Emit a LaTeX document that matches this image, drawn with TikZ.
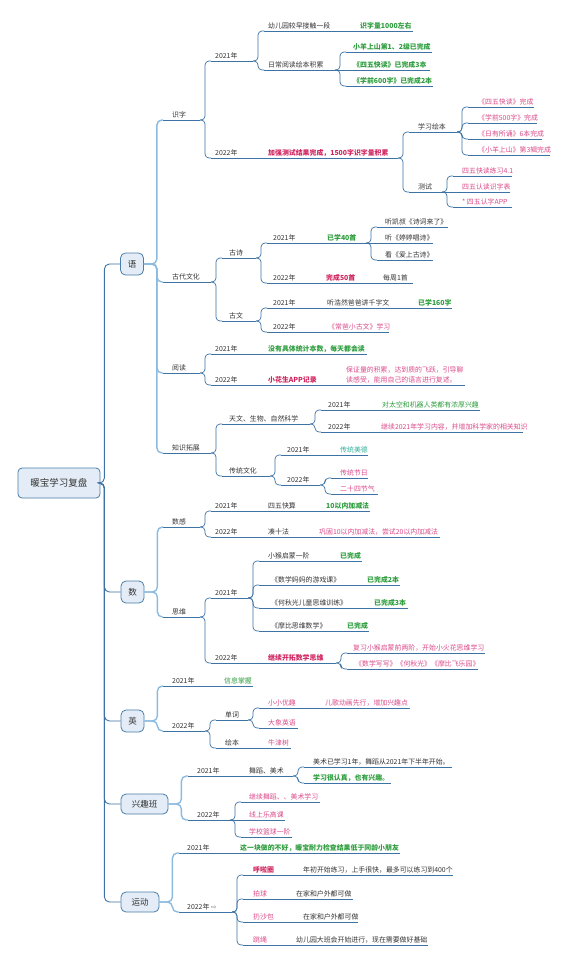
\documentclass[tikz,border=0pt]{standalone}
\usepackage{fontspec}
\setmainfont{Noto Sans CJK SC}
\newfontfamily\dejavu{DejaVu Sans}
\definecolor{lnc}{HTML}{3D72A4}
\definecolor{trc}{HTML}{8DBBE0}
\definecolor{txc}{HTML}{333333}
\definecolor{grc}{HTML}{2E9E3E}
\definecolor{rdc}{HTML}{D1245F}
\definecolor{pkc}{HTML}{DB4A8A}
\definecolor{tlc}{HTML}{2FB09C}
\definecolor{boxf}{HTML}{E4EDF7}
\definecolor{boxd}{HTML}{4A7EAA}
\newcommand\TP[7][]{%
  \coordinate (#2-l) at (#3,#6);
  \coordinate (#2-r) at (#5,#6);
  \draw[uline] (#2-l) -- (#2-r);
  \node[lbl,yshift=3pt,#1] (#2) at (#4,#6) {#7};}
\newcommand\CN[2]{\draw[conn] (#1-r) -- ++(5,0) |- (#2-l);}
\newcommand\CS[2]{\draw[uline] (#1-r) -- (#2-l);}
\newcommand\CM[2]{\draw[trk] (#1.east) -- ++(13,0) |- (#2-l);}
\begin{document}
\begin{tikzpicture}[x=1pt,y=-1pt,
  uline/.style={draw=lnc,line width=0.7pt},
  conn/.style={draw=lnc,line width=0.7pt,rounded corners=4pt},
  trk/.style={draw=trc,line width=1.4pt,rounded corners=5pt},
  rootln/.style={draw=lnc,line width=0.9pt,rounded corners=5pt},
  lbl/.style={anchor=base west,inner sep=0pt,text=txc,font=\fontsize{6.9}{10}\selectfont},
  gb/.style={text=grc,font=\fontsize{6.9}{10}\selectfont\bfseries},
  gn/.style={text=grc},
  rb/.style={text=rdc,font=\fontsize{6.9}{10}\selectfont\bfseries},
  rp/.style={text=pkc},
  tn/.style={text=tlc},
  mainbox/.style={draw=boxd,fill=boxf,line width=0.8pt,rounded corners=5pt,inner sep=0pt,text=txc,font=\fontsize{8.5}{10}\selectfont},
  rootbox/.style={draw=boxd,fill=boxf,line width=0.8pt,rounded corners=4pt,inner sep=0pt,text=txc,font=\fontsize{9.5}{11}\selectfont}]
\useasboundingbox (0,0) rectangle (569,967);
\fill[white] (0,0) rectangle (569,967);

% root and main topics
\node[rootbox,minimum width=82pt,minimum height=30pt] (root) at (59,483) {暖宝学习复盘};
\node[mainbox,minimum width=23pt,minimum height=22pt] (yu) at (132,264) {语};
\node[mainbox,minimum width=23pt,minimum height=22pt] (shu) at (132.5,592) {数};
\node[mainbox,minimum width=23pt,minimum height=22pt] (ying) at (132.5,721) {英};
\node[mainbox,minimum width=47pt,minimum height=20pt] (xq) at (144.5,804) {兴趣班};
\node[mainbox,minimum width=38pt,minimum height=20pt] (yundong) at (140,902) {运动};

% ===== 语 =====
\TP{sz}{163}{172}{200}{120}{识字}
\TP{sz21}{211}{215}{253}{61}{2021年}
\TP{sz22}{211}{215}{253}{158}{2022年}
\TP{a1}{264}{268}{347}{31}{幼儿园较早接触一段}
\TP{a2}{264}{268}{335}{70}{日常阅读绘本积累}
\TP[gb]{a1a}{352}{360}{413}{31}{识字量1000左右}
\TP[gb]{a2a}{346}{353}{432}{52}{小羊上山第1、2级已完成}
\TP[gb]{a2b}{346}{353}{430}{70}{《四五快读》已完成3本}
\TP[gb]{a2c}{346}{353}{433}{86}{《学前600字》已完成2本}
\TP[rb]{b1}{262}{268}{398}{158}{加强测试结果完成，1500字识字量积累}
\TP{b1a}{409}{418}{457}{132}{学习绘本}
\TP{b1b}{409}{418}{442}{192}{测试}
\TP[rp]{c1}{468}{478}{534}{107}{《四五快读》完成}
\TP[rp]{c2}{468}{478}{537}{123}{《学前500字》完成}
\TP[rp]{c3}{468}{478}{542}{139}{《日有所诵》6本完成}
\TP[rp]{c4}{468}{478}{550}{155}{《小羊上山》第3辑完成}
\TP[rp]{d1}{453}{462}{512}{176}{四五快读练习4.1}
\TP[rp]{d2}{453}{462}{510}{192}{四五认读识字表}
\TP[rp]{d3}{453}{462}{512}{207}{* 四五认字APP}

\TP{gd}{163}{172}{211}{282}{古代文化}
\TP{gs}{222}{229}{256}{258}{古诗}
\TP{gw}{222}{229}{256}{321}{古文}
\TP{gs21}{267}{273}{311}{243}{2021年}
\TP{gs22}{267}{273}{311}{283}{2022年}
\TP[gb]{e1}{316}{327}{366}{243}{已学40首}
\TP{e1a}{377}{385}{448}{227}{听凯叔《诗词来了》}
\TP{e1b}{377}{385}{433}{243}{听《婷婷唱诗》}
\TP{e1c}{377}{385}{433}{260}{看《爱上古诗》}
\TP[rb]{e2}{316}{326}{370}{283}{完成50首}
\TP{e2a}{375}{383}{413}{283}{每周1首}
\TP{gw21}{267}{273}{311}{308}{2021年}
\TP{gw22}{267}{273}{311}{332}{2022年}
\TP{f1}{316}{327}{410}{308}{听浩然爸爸讲千字文}
\TP[gb]{f1a}{414}{418}{452}{308}{已学160字}
\TP[rp]{f2}{316}{328}{389}{332}{《常爸小古文》学习}

\TP{rd}{163}{172}{200}{373}{阅读}
\TP{rd21}{211}{215}{253}{354}{2021年}
\TP{rd22}{211}{215}{253}{385}{2022年}
\TP[gb]{g1}{258}{268}{367}{354}{没有具体统计本数，每天都会读}
\TP[rb]{g2}{258}{268}{336}{385}{小花生APP记录}
\coordinate (g2a-l) at (341,385);
\coordinate (g2a-r) at (465,385);
\draw[uline] (g2a-l) -- (g2a-r);
\node[lbl,rp,anchor=south west,align=left,yshift=1.5pt] (g2a) at (346,385) {保证量的积累，达到质的飞跃，引导聊\\读感受，能用自己的语言进行复述。};

\TP{zs}{163}{172}{211}{453}{知识拓展}
\TP{tw}{222}{229}{310}{424}{天文、生物、自然科学}
\TP{ct}{222}{229}{270}{476}{传统文化}
\TP{tw21}{321}{328}{372}{410}{2021年}
\TP{tw22}{321}{328}{372}{432}{2022年}
\TP[gn]{h1}{377}{382}{480}{410}{对太空和机器人类都有浓厚兴趣}
\TP[rp]{h2}{377}{381}{523}{432}{继续2021年学习内容，并增加科学家的相关知识}
\TP{ct21}{281}{287}{332}{455}{2021年}
\TP{ct22}{281}{287}{320}{485}{2022年}
\TP[tn]{i1}{336}{340}{368}{455}{传统美德}
\TP[rp]{i2}{331}{340}{368}{478}{传统节日}
\TP[rp]{i3}{331}{340}{378}{494}{二十四节气}

% ===== 数 =====
\TP{sg}{163}{172}{200}{527}{数感}
\TP{sw}{163}{172}{200}{617}{思维}
\TP{sg21}{211}{215}{253}{511}{2021年}
\TP{sg22}{211}{215}{253}{537}{2022年}
\TP{j1}{258}{268}{312}{511}{四五快算}
\TP[gb]{j1a}{317}{326}{370}{511}{10以内加减法}
\TP{j2}{258}{268}{312}{537}{凑十法}
\TP[rp]{j2a}{316}{319}{440}{537}{巩固10以内加减法，尝试20以内加减法}
\TP{sw21}{211}{215}{248}{598}{2021年}
\TP{sw22}{211}{215}{248}{663}{2022年}
\TP{k1}{259}{268}{313}{561}{小猴启蒙一阶}
\TP[gb]{k1a}{318}{340}{362}{561}{已完成}
\TP{k2}{259}{271}{353}{585}{《数学妈妈的游戏课》}
\TP[gb]{k2a}{358}{367}{400}{585}{已完成2本}
\TP{k3}{259}{271}{360}{608}{《何秋光儿童思维训练》}
\TP[gb]{k3a}{365}{374}{408}{608}{已完成3本}
\TP{k4}{259}{271}{330}{631}{《摩比思维数学》}
\TP[gb]{k4a}{335}{347}{369}{631}{已完成}
\TP[rb]{k5}{253}{268}{336}{663}{继续开拓数学思维}
\TP[rp]{k5a}{347}{353}{485}{653}{复习小猴启蒙前两阶，开始小火花思维学习}
\TP[rp]{k5b}{347}{355}{478}{669}{《数学写写》《何秋光》《摩比飞乐园》}

% ===== 英 =====
\TP{y21}{163}{172}{212}{686}{2021年}
\TP[gn]{l1}{217}{224}{253}{686}{信息掌握}
\TP{y22}{163}{172}{205}{731}{2022年}
\TP{dc}{216}{225}{248}{720}{单词}
\TP{hb}{216}{225}{248}{748}{绘本}
\TP[rp]{m1}{259}{268}{318}{708}{小小优趣}
\TP[rp]{m1a}{323}{325}{410}{708}{儿歌动画先行，增加兴趣点}
\TP[rp]{m2}{259}{268}{298}{728}{大象英语}
\TP[rp]{n1}{253}{268}{291}{748}{牛津树}

% ===== 兴趣班 =====
\TP{x21}{188}{197}{233}{776}{2021年}
\TP{o1}{238}{249}{293}{776}{舞蹈、美术}
\TP{o1a}{304}{313}{452}{767}{美术已学习1年，舞蹈从2021年下半年开始。}
\TP[gb]{o1b}{304}{313}{391}{783}{学习很认真，也有兴趣。}
\TP{x22}{188}{197}{230}{820}{2022年}
\TP[rp]{o2}{241}{249}{320}{802}{继续舞蹈、、美术学习}
\TP[rp]{o3}{241}{249}{285}{820}{线上乐高课}
\TP[rp]{o4}{241}{249}{292}{837}{学校篮球一阶}

% ===== 运动 =====
\TP{r21}{179}{187}{227}{853}{2021年}
\TP[gb]{p1}{232}{240}{400}{853}{这一块做的不好，暖宝耐力检查结果低于同龄小朋友}
\TP{r22}{179}{187}{232}{912}{2022年\ {\dejavu\color{gray}⇨}}
\TP[rb]{q1}{243}{253}{287}{875}{呼啦圈}
\TP{q1a}{292}{303}{453}{875}{年初开始练习，上手很快，最多可以练习到400个}
\TP[rp]{q2}{243}{253}{280}{899}{拍球}
\TP{q2a}{285}{296}{353}{899}{在家和户外都可做}
\TP[rp]{q3}{243}{253}{287}{922}{扔沙包}
\TP{q3a}{292}{303}{358}{922}{在家和户外都可做}
\TP[rp]{q4}{243}{253}{280}{945}{跳绳}
\TP{q4a}{285}{296}{428}{945}{幼儿园大班会开始进行，现在需要做好基础}

% ===== connectors =====
\foreach \m in {yu,shu,ying,xq,yundong}{\draw[rootln] (root.east) -- ++(4,0) |- (\m.west);}
\CM{yu}{sz}\CM{yu}{gd}\CM{yu}{rd}\CM{yu}{zs}
\CN{sz}{sz21}\CN{sz}{sz22}
\CN{sz21}{a1}\CN{sz21}{a2}
\CS{a1}{a1a}
\CN{a2}{a2a}\CS{a2}{a2b}\CN{a2}{a2c}
\CS{sz22}{b1}
\CN{b1}{b1a}\CN{b1}{b1b}
\CN{b1a}{c1}\CN{b1a}{c2}\CN{b1a}{c3}\CN{b1a}{c4}
\CN{b1b}{d1}\CS{b1b}{d2}\CN{b1b}{d3}
\CN{gd}{gs}\CN{gd}{gw}
\CN{gs}{gs21}\CN{gs}{gs22}
\CS{gs21}{e1}\CN{e1}{e1a}\CS{e1}{e1b}\CN{e1}{e1c}
\CS{gs22}{e2}\CS{e2}{e2a}
\CN{gw}{gw21}\CN{gw}{gw22}
\CS{gw21}{f1}\CS{f1}{f1a}\CS{gw22}{f2}
\CN{rd}{rd21}\CN{rd}{rd22}
\CS{rd21}{g1}\CS{rd22}{g2}\CS{g2}{g2a}
\CN{zs}{tw}\CN{zs}{ct}
\CN{tw}{tw21}\CN{tw}{tw22}
\CS{tw21}{h1}\CS{tw22}{h2}
\CN{ct}{ct21}\CN{ct}{ct22}
\CS{ct21}{i1}\CN{ct22}{i2}\CN{ct22}{i3}
\CM{shu}{sg}\CM{shu}{sw}
\CN{sg}{sg21}\CN{sg}{sg22}
\CS{sg21}{j1}\CS{j1}{j1a}\CS{sg22}{j2}\CS{j2}{j2a}
\CN{sw}{sw21}\CN{sw}{sw22}
\CN{sw21}{k1}\CN{sw21}{k2}\CN{sw21}{k3}\CN{sw21}{k4}
\CS{k1}{k1a}\CS{k2}{k2a}\CS{k3}{k3a}\CS{k4}{k4a}
\CS{sw22}{k5}\CN{k5}{k5a}\CN{k5}{k5b}
\CM{ying}{y21}\CM{ying}{y22}
\CS{y21}{l1}
\CN{y22}{dc}\CN{y22}{hb}
\CN{dc}{m1}\CN{dc}{m2}\CS{m1}{m1a}\CS{hb}{n1}
\CM{xq}{x21}\CM{xq}{x22}
\CS{x21}{o1}\CN{o1}{o1a}\CN{o1}{o1b}
\CN{x22}{o2}\CS{x22}{o3}\CN{x22}{o4}
\CM{yundong}{r21}\CM{yundong}{r22}
\CS{r21}{p1}
\CN{r22}{q1}\CN{r22}{q2}\CN{r22}{q3}\CN{r22}{q4}
\CS{q1}{q1a}\CS{q2}{q2a}\CS{q3}{q3a}\CS{q4}{q4a}
\end{tikzpicture}
\end{document}
